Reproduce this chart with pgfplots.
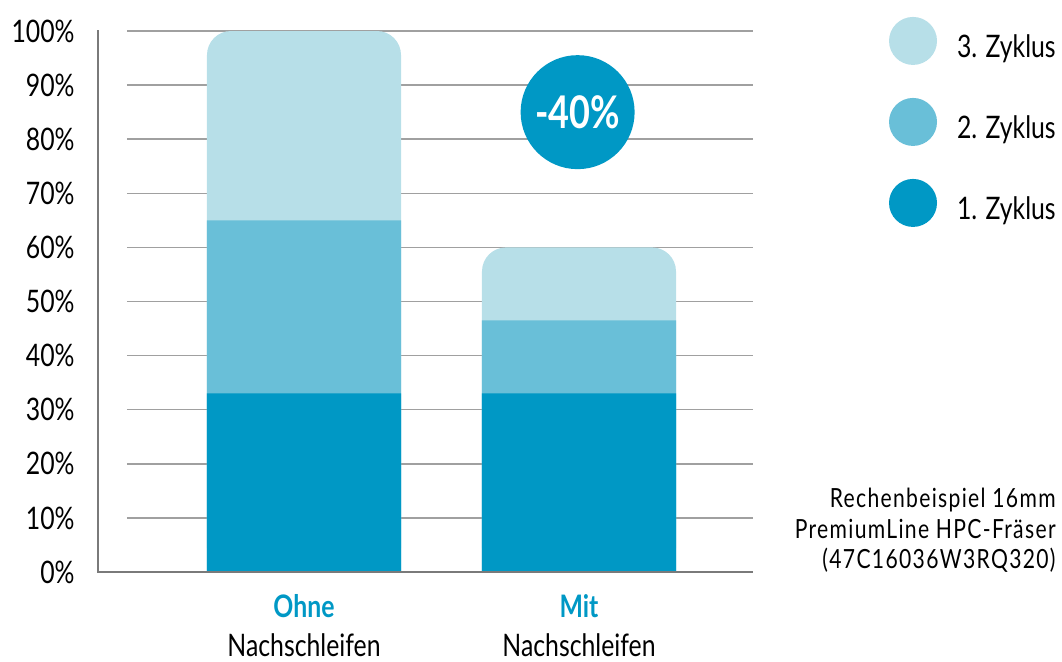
\documentclass[border=0pt]{standalone}
\usepackage{fontspec}
\setmainfont{Lato}[FakeStretch=0.8]
\newfontfamily\notefont{Lato}[FakeStretch=0.8, LetterSpace=5]
\usepackage{pgfplots}
\pgfplotsset{compat=1.18}
\definecolor{c1}{HTML}{0098C5}
\definecolor{c2}{HTML}{69BFD8}
\definecolor{c3}{HTML}{B7DFE8}
\definecolor{gridc}{HTML}{A0A0A0}
\definecolor{axc}{HTML}{7A7A7A}
\begin{document}
\begin{tikzpicture}
\path[use as bounding box] (0,0) rectangle (531pt,330.5pt);
\begin{axis}[
  at={(63.5pt,44.5pt)}, anchor=south west, scale only axis,
  width=313pt, height=270.5pt,
  xmin=-0.6436, xmax=1.6327, ymin=0, ymax=100,
  axis line style={draw=none}, tick style={draw=none},
  major tick length=0pt,
  ymajorgrids, grid style={gridc, line width=0.75pt},
  ybar, bar width=0.7055, bar shift=0pt,
  clip=false,
  xtick={0,1},
  xticklabels={{\textbf{\textcolor{c1}{Ohne}}\\Nachschleifen},{\textbf{\textcolor{c1}{Mit}}\\Nachschleifen}},
  xticklabel style={align=center, font=\fontsize{15.5}{19.5}\selectfont, inner sep=0pt, yshift=-11pt},
  ytick={0,10,20,30,40,50,60,70,80,90,100},
  yticklabels={0\%,10\%,20\%,30\%,40\%,50\%,60\%,70\%,80\%,90\%,100\%},
  yticklabel style={font=\fontsize{15.5}{18}\selectfont, anchor=east, inner sep=0pt, xshift=-26pt},
  legend style={at={(1.2173,1.026)}, anchor=north west, draw=none, fill=none,
    inner sep=0pt, outer sep=0pt, row sep=16.5pt,
    font=\fontsize{15.5}{18}\selectfont,
    nodes={inner sep=0pt},
    /tikz/every odd column/.append style={column sep=10pt}},
]
\addplot[fill=c3, draw=none, rounded corners=12pt,
  legend image code/.code={\fill[c3] (12pt,0.34em) circle (12pt);}] coordinates {(0,100) (1,60)};
\addplot[fill=c2, draw=none,
  legend image code/.code={\fill[c2] (12pt,0.34em) circle (12pt);}] coordinates {(0,65) (1,46.5)};
\addplot[fill=c1, draw=none,
  legend image code/.code={\fill[c1] (12pt,0.34em) circle (12pt);}] coordinates {(0,33) (1,33)};
\legend{3. Zyklus, 2. Zyklus, 1. Zyklus}
\node[circle, fill=c1, minimum size=57pt, inner sep=0pt, text=white,
  font=\bfseries\fontsize{22.5}{27}\selectfont] at (axis cs:0.995,85) {-40\%};
\end{axis}
\draw[axc, line width=1pt] (49pt,315.5pt) -- (49pt,44.5pt) -- (376.5pt,44.5pt);
\node[anchor=north east, align=right, inner sep=0pt, font=\notefont\fontsize{13.2}{15.2}\selectfont]
  at (528pt,86.5pt) {Rechenbeispiel 16mm\\PremiumLine HPC-Fräser\\(47C16036W3RQ320)};
\end{tikzpicture}
\end{document}
